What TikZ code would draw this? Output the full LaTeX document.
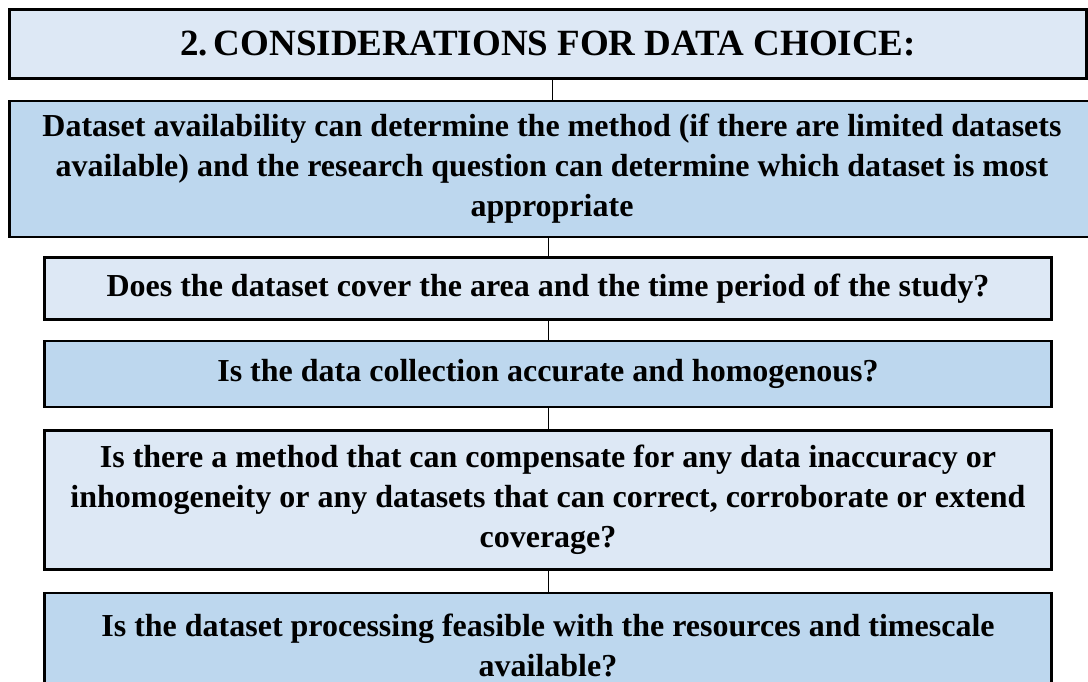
\documentclass[tikz,border=0pt]{standalone}
\usepackage{fontspec}
\setmainfont{Liberation Serif}
\usetikzlibrary{positioning}
\definecolor{palebox}{HTML}{DDE8F5}
\definecolor{deepbox}{HTML}{BDD7EE}
\begin{document}
\begin{tikzpicture}[x=1pt, y=1pt,
   every node/.style={draw, line width=2.5pt, align=center, inner sep=0pt,
                      font=\bfseries\fontsize{32}{40}\selectfont},
   palestep/.style={fill=palebox},
   deepstep/.style={fill=deepbox},
   joint/.style={line width=1pt}]

\useasboundingbox (0,0) rectangle (1088,-681);

\node[palestep, minimum width=1077pt, minimum height=69pt,
      font=\bfseries\fontsize{37}{40}\selectfont] (title) at (548,-44)
      {2.\,CONSIDERATIONS FOR DATA CHOICE:};
\node[deepstep, minimum width=1085pt, minimum height=136pt,
      below=20pt of title, xshift=4pt] (avail)
      {Dataset availability can determine the method (if there are limited datasets\\
       available) and the research question can determine which dataset is most\\
       appropriate};
\node[palestep, minimum width=1007pt, minimum height=62pt,
      below=18pt of avail, xshift=-4pt] (cover)
      {Does the dataset cover the area and the time period of the study?};
\node[deepstep, minimum width=1007pt, minimum height=66pt,
      below=19pt of cover] (accurate)
      {Is the data collection accurate and homogenous?};
\node[palestep, minimum width=1007pt, minimum height=139pt,
      below=21pt of accurate] (compensate)
      {Is there a method that can compensate for any data inaccuracy or\\
       inhomogeneity or any datasets that can correct, corroborate or extend\\
       coverage?};
\node[deepstep, minimum width=1007pt, minimum height=105pt,
      below=21pt of compensate] (feasible)
      {Is the dataset processing feasible with the resources and timescale\\
       available?};

\draw[joint] (avail.north) -- (avail.north |- title.south);
\foreach \upper/\lower in {avail/cover, cover/accurate,
                           accurate/compensate, compensate/feasible}
  \draw[joint] (\lower.north) -- (\upper.south -| \lower.north);

\end{tikzpicture}
\end{document}
